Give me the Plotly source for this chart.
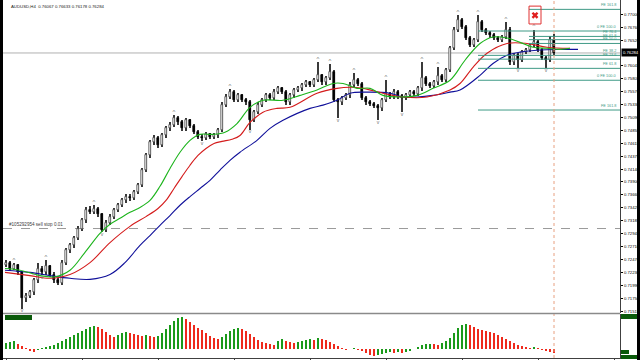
import plotly.graph_objects as go

# ---------------- data ----------------
ohlc = [
    (.7236,.7245,.7232,.7241),(.7241,.7244,.7226,.7230),(.7230,.7240,.7227,.7236),(.7236,.7238,.7219,.7223),
    (.7223,.7226,.7156,.7175),(.7175,.7184,.7168,.7180),(.7180,.7190,.7176,.7186),(.7186,.7212,.7182,.7208),
    (.7208,.7241,.7204,.7230),(.7230,.7234,.7218,.7223),(.7223,.7245,.7219,.7234),(.7234,.7236,.7214,.7219),
    (.7219,.7223,.7203,.7208),(.7208,.7212,.7199,.7204),(.7204,.7245,.7200,.7241),(.7241,.7268,.7236,.7264),
    (.7264,.7278,.7258,.7273),(.7273,.7291,.7268,.7286),(.7286,.7308,.7282,.7304),(.7304,.7323,.7299,.7319),
    (.7319,.7343,.7315,.7338),(.7338,.7345,.7330,.7334),(.7334,.7347,.7330,.7341),(.7341,.7344,.7326,.7330),
    (.7330,.7333,.7297,.7301),(.7301,.7319,.7297,.7315),(.7315,.7330,.7311,.7326),(.7326,.7342,.7322,.7338),
    (.7338,.7351,.7334,.7347),(.7347,.7360,.7343,.7356),(.7356,.7368,.7352,.7363),(.7363,.7367,.7355,.7360),
    (.7360,.7375,.7356,.7371),(.7371,.7389,.7367,.7384),(.7384,.7416,.7380,.7412),(.7412,.7443,.7408,.7439),
    (.7439,.7468,.7435,.7463),(.7463,.7476,.7459,.7471),(.7471,.7475,.7453,.7458),(.7458,.7480,.7454,.7476),
    (.7476,.7493,.7472,.7489),(.7489,.7500,.7485,.7495),(.7495,.7513,.7491,.7508),(.7508,.7512,.7496,.7500),
    (.7500,.7504,.7485,.7489),(.7489,.7509,.7485,.7504),(.7504,.7507,.7489,.7493),(.7493,.7497,.7478,.7482),
    (.7482,.7486,.7470,.7474),(.7474,.7478,.7466,.7471),(.7471,.7482,.7467,.7478),(.7478,.7481,.7469,.7473),
    (.7473,.7480,.7470,.7476),(.7476,.7490,.7472,.7486),(.7486,.7537,.7482,.7532),(.7532,.7552,.7528,.7547),
    (.7547,.7561,.7543,.7556),(.7556,.7560,.7537,.7541),(.7541,.7555,.7537,.7550),(.7550,.7553,.7537,.7541),
    (.7541,.7545,.7533,.7537),(.7537,.7541,.7487,.7504),(.7504,.7523,.7500,.7519),(.7519,.7537,.7515,.7532),
    (.7532,.7546,.7528,.7541),(.7541,.7555,.7537,.7550),(.7550,.7554,.7541,.7545),(.7545,.7561,.7541,.7556),
    (.7556,.7568,.7552,.7563),(.7563,.7566,.7552,.7556),(.7556,.7560,.7532,.7537),(.7537,.7555,.7533,.7550),
    (.7550,.7564,.7546,.7560),(.7560,.7567,.7556,.7563),(.7563,.7573,.7559,.7569),(.7569,.7578,.7565,.7574),
    (.7574,.7577,.7565,.7569),(.7569,.7583,.7565,.7578),(.7578,.7611,.7574,.7587),(.7587,.7590,.7570,.7574),
    (.7574,.7586,.7570,.7582),(.7582,.7608,.7578,.7593),(.7593,.7597,.7537,.7541),(.7541,.7546,.7508,.7537),
    (.7537,.7549,.7533,.7545),(.7545,.7554,.7541,.7550),(.7550,.7574,.7546,.7569),(.7569,.7591,.7565,.7578),
    (.7578,.7582,.7567,.7571),(.7571,.7575,.7541,.7545),(.7545,.7549,.7532,.7537),(.7537,.7541,.7530,.7534),
    (.7534,.7538,.7526,.7530),(.7530,.7534,.7504,.7526),(.7526,.7545,.7522,.7541),(.7541,.7578,.7537,.7552),
    (.7552,.7556,.7543,.7548),(.7548,.7561,.7544,.7556),(.7556,.7560,.7543,.7548),(.7548,.7552,.7519,.7545),
    (.7545,.7554,.7541,.7550),(.7550,.7560,.7546,.7556),(.7556,.7560,.7548,.7552),(.7552,.7567,.7548,.7563),
    (.7563,.7611,.7559,.7582),(.7582,.7586,.7567,.7571),(.7571,.7575,.7563,.7567),(.7567,.7578,.7563,.7574),
    (.7574,.7602,.7570,.7585),(.7585,.7589,.7574,.7578),(.7578,.7601,.7574,.7597),(.7597,.7641,.7593,.7637),
    (.7637,.7676,.7633,.7671),(.7671,.7698,.7667,.7689),(.7689,.7693,.7672,.7676),(.7676,.7680,.7652,.7656),
    (.7656,.7660,.7639,.7643),(.7643,.7656,.7639,.7652),(.7652,.7698,.7648,.7685),(.7685,.7689,.7667,.7671),
    (.7671,.7675,.7661,.7665),(.7665,.7669,.7657,.7661),(.7661,.7665,.7652,.7656),(.7656,.7660,.7648,.7652),
    (.7652,.7662,.7648,.7658),(.7658,.7685,.7654,.7671),(.7671,.7676,.7606,.7611),(.7611,.7628,.7606,.7624),
    (.7624,.7628,.7600,.7615),(.7615,.7634,.7611,.7630),(.7630,.7638,.7626,.7634),(.7634,.7647,.7630,.7643),
    (.7643,.7671,.7639,.7648),(.7648,.7652,.7630,.7634),(.7634,.7638,.7615,.7619),(.7619,.7623,.7600,.7615),
    (.7615,.7660,.7611,.7652),(.7652,.7663,.7624,.76284),
]
opens = [r[0] for r in ohlc]
highs = [r[1] for r in ohlc]
lows = [r[2] for r in ohlc]
closes = [r[3] for r in ohlc]

fractal_up = [2, 7, 10, 22, 42, 56, 78, 81, 87, 95, 104, 108, 113, 118, 125, 132]
fractal_dn = [4, 9, 24, 49, 61, 83, 93, 99, 128, 135]

# Alligator lines: (bar position, price)
lips_x = [-0.25,3.5,8.5,12.25,16,19.75,23.5,26,28.5,31,33.5,36,38.5,41,43.5,46,48.5,51.5,54.75,57.75,61,64.25,69.25,73.5,77.75,81.75,84.25,87.75,91,94.25,98.5,102.75,106.75,111,114.75,118.5,121.75,125.25,128.5,131.75,135.25,138.5,141]
lips_y = [.7230,.7227,.7217,.7215,.7227,.7260,.7295,.7312,.7323,.7334,.7343,.7356,.7382,.7415,.7445,.7467,.7478,.7478,.7482,.7498,.7528,.7541,.7541,.7550,.7560,.7572,.7572,.7563,.7563,.7550,.7547,.7550,.7563,.7578,.7615,.7646,.7658,.7656,.7648,.7639,.7637,.7635,.7637]
teeth_x = [-0.25,6,11,16,21,26,31,35,38,40,42,44,46,48,50,52,54,56.5,58.5,61,64.25,67.75,71,77.75,82.75,86,89.25,94.25,99.25,105.25,111,113.5,116.75,120.25,125.25,130.25,135.25,141]
teeth_y = [.7223,.7217,.7212,.7219,.7241,.7278,.7308,.7326,.7341,.7356,.7378,.7400,.7421,.7439,.7452,.7461,.7465,.7469,.7476,.7500,.7519,.7526,.7528,.7554,.7563,.7565,.7563,.7554,.7547,.7547,.7560,.7572,.7602,.7628,.7646,.7646,.7639,.7637]
jaw_x = [-0.25,6,11,16,21,26,29.75,33.5,36,38.5,41,43.5,46,48.5,51,53.5,56,58.5,62.75,66,69.25,76,79.25,82.75,86,90.25,96,99.25,102.75,106.75,111,113.5,118.5,121.75,125.25,128.5,133.5,138.5,143]
jaw_y = [.7227,.7223,.7217,.7212,.7210,.7219,.7241,.7273,.7291,.7310,.7328,.7347,.7363,.7378,.7393,.7412,.7430,.7445,.7467,.7489,.7504,.7526,.7532,.7541,.7554,.7556,.7554,.7547,.7547,.7550,.7556,.7560,.7587,.7609,.7624,.7630,.7634,.7635,.7635]

ao = [.0006,.0007,.0008,.0005,.0003,.0001,-.0002,-.0003,-.0001,.0001,.0002,.0003,.0004,.0006,.0008,.0010,
      .0012,.0014,.0016,.0018,.0020,.0022,.0023,.0022,.0020,.0017,.0014,.0012,.0014,.0016,.0017,.0016,
      .0015,.0014,.0013,.0014,.0013,.0012,.0013,.0016,.0020,.0024,.0028,.0031,.0032,.0030,.0027,.0024,
      .0021,.0019,.0016,.0013,.0011,.0010,.0012,.0015,.0018,.0020,.0021,.0020,.0018,.0015,.0012,.0009,
      .0007,.0006,.0005,.0004,.0008,.0010,.0008,.0007,.0006,.0007,.0008,.0009,.0010,.00095,.0011,.0010,
      .0009,.0007,.0005,.0003,.0001,-.00005,.0000,.00005,-.00005,-.0002,-.0004,-.0006,-.0007,-.0006,-.00045,-.00035,
      -.0003,-.00035,-.0003,-.00035,-.0003,-.0002,.0000,.0002,.0004,.0005,.00055,.0005,.00045,.0006,.0008,.0011,
      .0016,.0021,.0024,.0025,.0024,.0022,.0020,.0019,.0018,.00175,.0016,.0014,.0012,.0010,.0008,.0006,
      .0004,.0003,.0002,.0001,.00015,.00005,-.00005,-.00015,-.00025,-.00035]

price_ticks = ["0.71515","0.71750","0.71990","0.72230","0.72470","0.72710","0.72945","0.73185","0.73425",
               "0.73660","0.73900","0.74140","0.74375","0.74615","0.74855","0.75090","0.75330","0.75570",
               "0.75805","0.76045","0.76520","0.76760","0.77000"]
bid_price = 0.76284
title_text = "AUDUSD,H4  0.76067 0.76633 0.76178 0.76284"
order_price = 0.7304
order_text = "#105292954 sell stop 0.01"

fe_levels = [.7709,.7669,.7659,.7653,.7646,.7624,.7617,.7600,.7578,.7523]
fe_labels = ["FE 161.8","0 FE 100.0","FE 76.4","FE 61.8","FE 50.0","FE 38.2","FE 23.6","FE 61.8","0 FE 100.0","FE 161.8"]
fe_start = [130.75,118,130.75,130.75,130.75,118,118,118,118,118]

marker_box = (130.75, 133.75, .7682, .7715)   # red box object (bars, prices)
marker_x = [132.25]
marker_y = [.7698]

# ---------------- figure ----------------
n = len(closes)
idx = list(range(n))
fig = go.Figure()

fig.add_trace(go.Bar(x=idx, y=[h - l for h, l in zip(highs, lows)], base=lows, width=0.22,
                     marker=dict(color="#3a3a3a", line=dict(width=0)), xaxis="x", yaxis="y",
                     hoverinfo="skip", showlegend=False))
bull = [i for i in idx if closes[i] >= opens[i]]
bear = [i for i in idx if closes[i] < opens[i]]
fig.add_trace(go.Bar(x=bull, y=[max(closes[i] - opens[i], 0.00004) for i in bull],
                     base=[opens[i] for i in bull], width=0.72,
                     marker=dict(color="#dcdcdc", line=dict(color="#3a3a3a", width=0.6)),
                     xaxis="x", yaxis="y", showlegend=False))
fig.add_trace(go.Bar(x=bear, y=[opens[i] - closes[i] for i in bear],
                     base=[closes[i] for i in bear], width=0.72,
                     marker=dict(color="#000000", line=dict(color="#000000", width=0.6)),
                     xaxis="x", yaxis="y", showlegend=False))

for xs, ys, col in [(jaw_x, jaw_y, "#10109a"), (teeth_x, teeth_y, "#d41c1c"), (lips_x, lips_y, "#1cb41c")]:
    fig.add_trace(go.Scatter(x=xs, y=ys, mode="lines", line=dict(color=col, width=1.1, shape="spline"),
                             xaxis="x", yaxis="y", showlegend=False))

fig.add_trace(go.Scatter(x=fractal_up, y=[highs[i] for i in fractal_up], mode="text", text=["^"] * len(fractal_up),
                         textposition="top center", textfont=dict(size=6, color="#707070"),
                         xaxis="x", yaxis="y", showlegend=False))
fig.add_trace(go.Scatter(x=fractal_dn, y=[lows[i] for i in fractal_dn], mode="text", text=["v"] * len(fractal_dn),
                         textposition="bottom center", textfont=dict(size=5, color="#707070"),
                         xaxis="x", yaxis="y", showlegend=False))

fig.add_trace(go.Scatter(x=marker_x, y=marker_y, mode="markers",
                         marker=dict(symbol="x", size=6, color="#e02020", line=dict(width=0)),
                         xaxis="x", yaxis="y", showlegend=False))

ao_col = ["#1a9a1a"] + ["#1a9a1a" if ao[i] > ao[i - 1] else "#ee2a1c" for i in range(1, n)]
fig.add_trace(go.Bar(x=idx, y=ao, width=0.55, marker=dict(color=ao_col, line=dict(width=0)),
                     xaxis="x2", yaxis="y2", showlegend=False))

X0, X1 = 3 / 640, 620 / 640
shapes = []
shapes.append(dict(type="line", xref="paper", yref="y", x0=X0, x1=X1, y0=bid_price, y1=bid_price,
                   line=dict(color="#b0b0b0", width=1), layer="below"))
shapes.append(dict(type="line", xref="paper", yref="y", x0=X0, x1=X1, y0=order_price, y1=order_price,
                   line=dict(color="#9a9a9a", width=1, dash="dash"), layer="below"))
for lv, st in zip(fe_levels, fe_start):
    shapes.append(dict(type="line", xref="x", yref="y", x0=st, x1=153.5, y0=lv, y1=lv,
                       line=dict(color="#3f9a86", width=1)))
shapes.append(dict(type="rect", xref="x", yref="y", x0=marker_box[0], x1=marker_box[1],
                   y0=marker_box[2], y1=marker_box[3], line=dict(color="#e03030", width=1)))
shapes.append(dict(type="line", xref="x", yref="paper", x0=n - 1, x1=n - 1, y0=2 / 360, y1=1,
                   line=dict(color="#e8a080", width=1, dash="dot")))
# pane separator, frame strips
shapes.append(dict(type="line", xref="paper", yref="paper", x0=X0, x1=X1, y0=1 - 313.5 / 360, y1=1 - 313.5 / 360,
                   line=dict(color="#8a8a8a", width=1.5)))
shapes.append(dict(type="rect", xref="paper", yref="paper", x0=0, x1=3 / 640, y0=0, y1=1,
                   fillcolor="#000000", line=dict(width=0)))
shapes.append(dict(type="rect", xref="paper", yref="paper", x0=637 / 640, x1=1, y0=0, y1=1,
                   fillcolor="#000000", line=dict(width=0)))
# indicator labels (green boxes)
for (a, b, c, d) in [(5, 32, 315, 320), (621, 637, 314, 319), (621, 629, 350, 354), (621, 637, 355, 359)]:
    shapes.append(dict(type="rect", xref="paper", yref="paper", x0=a / 640, x1=b / 640,
                       y0=1 - d / 360, y1=1 - c / 360, fillcolor="#0a5a0a", line=dict(width=0)))

annotations = []
annotations.append(dict(xref="paper", yref="paper", x=9 / 640, y=1 - 2 / 360, xanchor="left", yanchor="top",
                        text=title_text, showarrow=False, font=dict(size=4.3, color="#202020")))
for t in price_ticks:
    annotations.append(dict(xref="paper", yref="y", x=622 / 640, y=float(t), xanchor="left", yanchor="middle",
                            text=t, showarrow=False, font=dict(size=4.2, color="#000000")))
annotations.append(dict(xref="paper", yref="y", x=620.5 / 640, y=bid_price, xanchor="left", yanchor="middle",
                        text=format(bid_price, ".5f"), showarrow=False, bgcolor="#000000",
                        font=dict(size=4.2, color="#ffffff"), borderpad=1))
annotations.append(dict(xref="paper", yref="y", x=7 / 640, y=order_price, xanchor="left", yanchor="bottom",
                        text=order_text, showarrow=False, font=dict(size=4.6, color="#404040")))
for lv, lab in zip(fe_levels, fe_labels):
    annotations.append(dict(xref="paper", yref="y", x=618 / 640, y=lv, xanchor="right", yanchor="bottom",
                            text=lab, showarrow=False, font=dict(size=3.8, color="#3f9a86")))

fig.update_layout(
    width=640, height=360, margin=dict(l=0, r=0, t=0, b=0),
    paper_bgcolor="#ffffff", plot_bgcolor="#ffffff", barmode="overlay", bargap=0,
    font=dict(family="Liberation Sans, Arial, sans-serif"),
    xaxis=dict(domain=[X0, X1], range=[-0.75, 153.5], showticklabels=False, showgrid=False,
               zeroline=False, anchor="y", fixedrange=True),
    yaxis=dict(domain=[1 - 313 / 360, 1], range=[0.71479, 0.77263], side="right", anchor="x",
               tickvals=[float(t) for t in price_ticks], showticklabels=False, ticks="outside", ticklen=2,
               tickcolor="#000000", showgrid=False, zeroline=False,
               showline=True, linecolor="#404040", linewidth=1),
    xaxis2=dict(domain=[X0, X1], matches="x", anchor="y2", showticklabels=False, showgrid=False,
                zeroline=False, ticks="outside", ticklen=2, dtick=19, showline=True, linecolor="#404040"),
    yaxis2=dict(domain=[2 / 360, 46 / 360], range=[-0.0009, 0.0035], side="right", anchor="x2",
                showticklabels=False, showgrid=False, zeroline=False, showline=True, linecolor="#404040"),
    shapes=shapes, annotations=annotations,
)
fig.write_html("out.html", config={"displayModeBar": False},
               post_script="document.body.style.margin='0';document.body.style.overflow='hidden';")
